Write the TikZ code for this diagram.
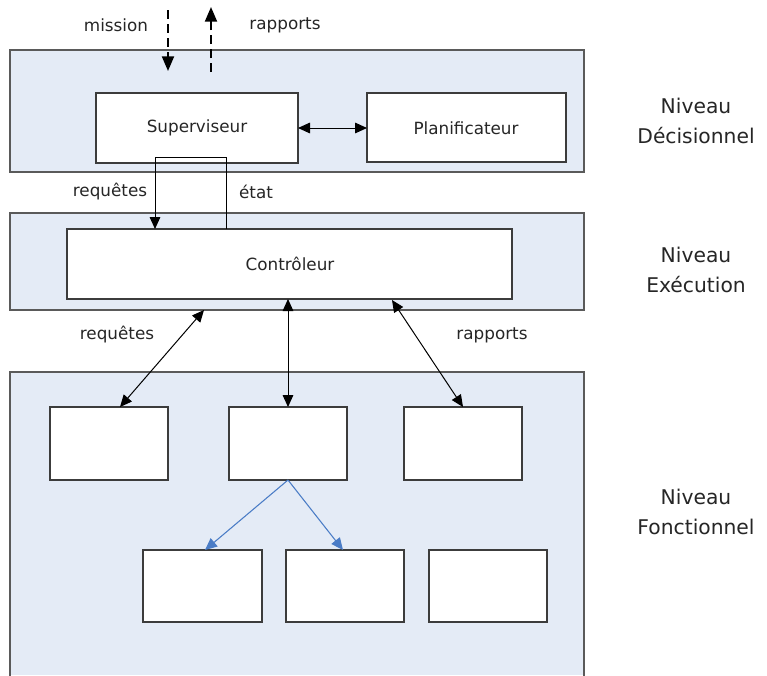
\documentclass[tikz,border=0pt]{standalone}
\usepackage{fontspec}
\setmainfont{DejaVu Sans}
\usetikzlibrary{arrows.meta}
\definecolor{panelfill}{HTML}{E4EBF6}
\definecolor{panelline}{HTML}{5A5A5A}
\definecolor{boxline}{HTML}{3C3C3C}
\definecolor{linkblue}{HTML}{4A7CC6}
\begin{document}
\begin{tikzpicture}[x=0.75pt,y=-0.75pt,
  panel/.style={fill=panelfill,draw=panelline,line width=0.9pt},
  unit/.style={draw=boxline,fill=white,line width=1pt,minimum width=0pt,inner sep=0pt},
  lbl/.style={font=\fontsize{12.6}{15}\selectfont,text=black!85},
  lvl/.style={font=\fontsize{15.2}{23}\selectfont,text=black!85,align=center},
  bi/.style={{Triangle[length=9pt,width=8pt]}-{Triangle[length=9pt,width=8pt]},line width=0.75pt},
  one/.style={-{Triangle[length=9pt,width=8pt]},line width=0.75pt},
  ext/.style={-{Triangle[length=11pt,width=9pt]},line width=1.5pt,dash pattern=on 6.5pt off 4pt},
  sub/.style={-{Triangle[length=9pt,width=8pt]},line width=0.8pt,draw=linkblue,color=linkblue}]
\useasboundingbox (0,0) rectangle (767,675);
\fill[white] (0,0) rectangle (767,675);

% levels
\draw[panel] (10,50) rectangle (584,172);
\draw[panel] (10,213) rectangle (584,310);
\fill[panelfill] (10,372) rectangle (584,675);
\draw[panelline,line width=0.9pt] (10,676) -- (10,372) -- (584,372) -- (584,676);

% decision level
\draw[unit] (96,93) rectangle (298,163);
\node[lbl] (sup) at (197,128) {Superviseur};
\draw[unit] (367,93) rectangle (566,162);
\node[lbl] (plan) at (466,128) {Planificateur};
\coordinate (supR) at (298,128);
\coordinate (planL) at (367,128);
\draw[bi] (supR) -- (planL);

% execution level
\draw[unit] (67,229) rectangle (512,299);
\node[lbl] (ctrl) at (290,264) {Contrôleur};

% functional modules
\draw[unit] (50,407) rectangle (168,480);
\draw[unit] (229,407) rectangle (347,480);
\draw[unit] (404,407) rectangle (522,480);
\draw[unit] (143,550) rectangle (262,622);
\draw[unit] (286,550) rectangle (404,622);
\draw[unit] (429,550) rectangle (547,622);
\coordinate (m1) at (120,407);
\coordinate (m2) at (288,407);
\coordinate (m3) at (463,407);
\coordinate (m2b) at (288,480);
\coordinate (m4) at (205,550);
\coordinate (m5) at (343,550);

% external flows
\coordinate (misA) at (168,10);
\coordinate (misB) at (168,71);
\coordinate (rapA) at (211,72);
\coordinate (rapB) at (211,7);
\draw[ext] (misA) -- (misB);
\draw[ext] (rapA) -- (rapB);
\node[lbl] (mission) at (116,25) {mission};
\node[lbl] (rapports) at (285,25) {rapports};

% requests / state loop between supervisor and controller
\coordinate (loopA) at (226,229);
\coordinate (loopB) at (226,157);
\coordinate (loopC) at (155,157);
\coordinate (loopD) at (155,229);
\draw[one] (loopA) -- (loopB) -- (loopC) -- (loopD);
\node[lbl] (req1) at (110,192) {requêtes};
\node[lbl] (etat) at (256,192) {état};

% controller to functional modules
\coordinate (c1) at (204,310);
\coordinate (c2) at (288,299);
\coordinate (c3) at (392,300);
\draw[bi] (c1) -- (m1);
\draw[bi] (c2) -- (m2);
\draw[bi] (c3) -- (m3);
\node[lbl] (req2) at (117,335) {requêtes};
\node[lbl] (rap2) at (492,335) {rapports};

% module decomposition
\draw[sub] (m2b) -- (m4);
\draw[sub] (m2b) -- (m5);

% level names
\node[lvl] (n1) at (696,121) {Niveau\\Décisionnel};
\node[lvl] (n2) at (696,270) {Niveau\\Exécution};
\node[lvl] (n3) at (696,512) {Niveau\\Fonctionnel};
\end{tikzpicture}
\end{document}
